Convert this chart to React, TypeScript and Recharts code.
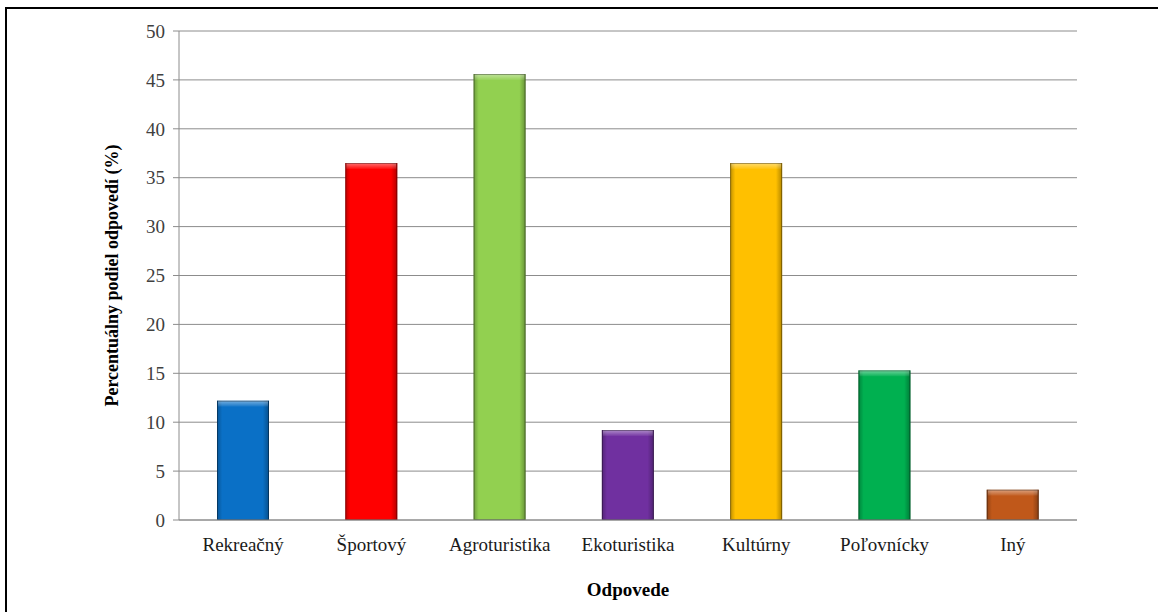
import { BarChart, Bar, XAxis, YAxis, CartesianGrid, Cell, Label } from "recharts"

// odpovede a percentuálny podiel
const kategorie = ["Rekreačný", "Športový", "Agroturistika", "Ekoturistika", "Kultúrny", "Poľovnícky", "Iný"]
const hodnoty = [12.2, 36.5, 45.6, 9.2, 36.5, 15.3, 3.1]
const farby = ["#0a70c6", "#ff0000", "#92d050", "#7030a0", "#ffc000", "#00b050", "#c0581a"]
const yTicks = [0, 5, 10, 15, 20, 25, 30, 35, 40, 45, 50]

const data = kategorie.map((name, i) => ({ name, value: hodnoty[i], color: farby[i] }))

const font = "'Liberation Serif', 'Times New Roman', serif"

function BevelBar(props: any) {
  const { x, y, width, height, fill } = props
  if (!height || height <= 0) return null
  const bevel = Math.min(6, height / 2)
  return (
    <g>
      <rect x={x} y={y} width={width} height={height} fill={fill} />
      <rect x={x} y={y} width={width} height={height} fill="url(#sideShade)" />
      <rect x={x + 1} y={y} width={width - 2} height={bevel} fill="url(#topShine)" />
      <rect x={x + 0.5} y={y + 0.5} width={width - 1} height={height - 1} fill="none" stroke="rgba(0,0,0,0.35)" strokeWidth={1} />
    </g>
  )
}

export default function App() {
  return (
    <div style={{ position: "fixed", left: 0, top: 0, width: 1158, height: 612, background: "#fff", overflow: "hidden", fontFamily: font }}>
      <div style={{ position: "absolute", left: 5, top: 7, width: 1200, height: 700, borderTop: "2px solid #000", borderLeft: "2px solid #000" }} />
      <div style={{ position: "absolute", left: 0, top: 0 }}>
        <BarChart width={1158} height={612} data={data} margin={{ top: 31, right: 81, bottom: 8, left: 100 }} barSize={52} style={{ fontFamily: font }}>
          <defs>
            <linearGradient id="sideShade" x1="0" y1="0" x2="1" y2="0">
              <stop offset="0" stopColor="#000" stopOpacity={0.25} />
              <stop offset="0.1" stopColor="#000" stopOpacity={0} />
              <stop offset="0.88" stopColor="#000" stopOpacity={0} />
              <stop offset="1" stopColor="#000" stopOpacity={0.3} />
            </linearGradient>
            <linearGradient id="topShine" x1="0" y1="0" x2="0" y2="1">
              <stop offset="0" stopColor="#fff" stopOpacity={0.45} />
              <stop offset="1" stopColor="#fff" stopOpacity={0.05} />
            </linearGradient>
          </defs>
          <CartesianGrid vertical={false} stroke="#8c8c8c" strokeWidth={1} />
          <XAxis
            dataKey="name"
            height={84}
            tickLine={false}
            axisLine={{ stroke: "#8c8c8c" }}
            tick={{ fontFamily: font, fontSize: 19, fill: "#1a1a1a", style: { fontFamily: font } }}
            tickMargin={12}
            interval={0}
          >
            <Label value="Odpovede" position="insideBottom" offset={8} style={{ fontFamily: font, fontSize: 19, fontWeight: "bold", fill: "#000" }} />
          </XAxis>
          <YAxis
            width={79}
            domain={[0, 50]}
            ticks={yTicks}
            interval={0}
            tickSize={6}
            tickMargin={8}
            tickLine={{ stroke: "#8c8c8c" }}
            axisLine={{ stroke: "#8c8c8c" }}
            tick={{ fontFamily: font, fontSize: 19, fill: "#404040", style: { fontFamily: font } }}
          >
            <Label
              value="Percentuálny podiel odpovedí (%)"
              angle={-90}
              position="insideLeft"
              offset={12}
              style={{ textAnchor: "middle", fontFamily: font, fontSize: 18, fontWeight: "bold", fill: "#000" }}
            />
          </YAxis>
          <Bar dataKey="value" isAnimationActive={false} shape={<BevelBar />}>
            {data.map((d, i) => (
              <Cell key={`cell-${i}`} fill={d.color} />
            ))}
          </Bar>
        </BarChart>
      </div>
    </div>
  )
}
